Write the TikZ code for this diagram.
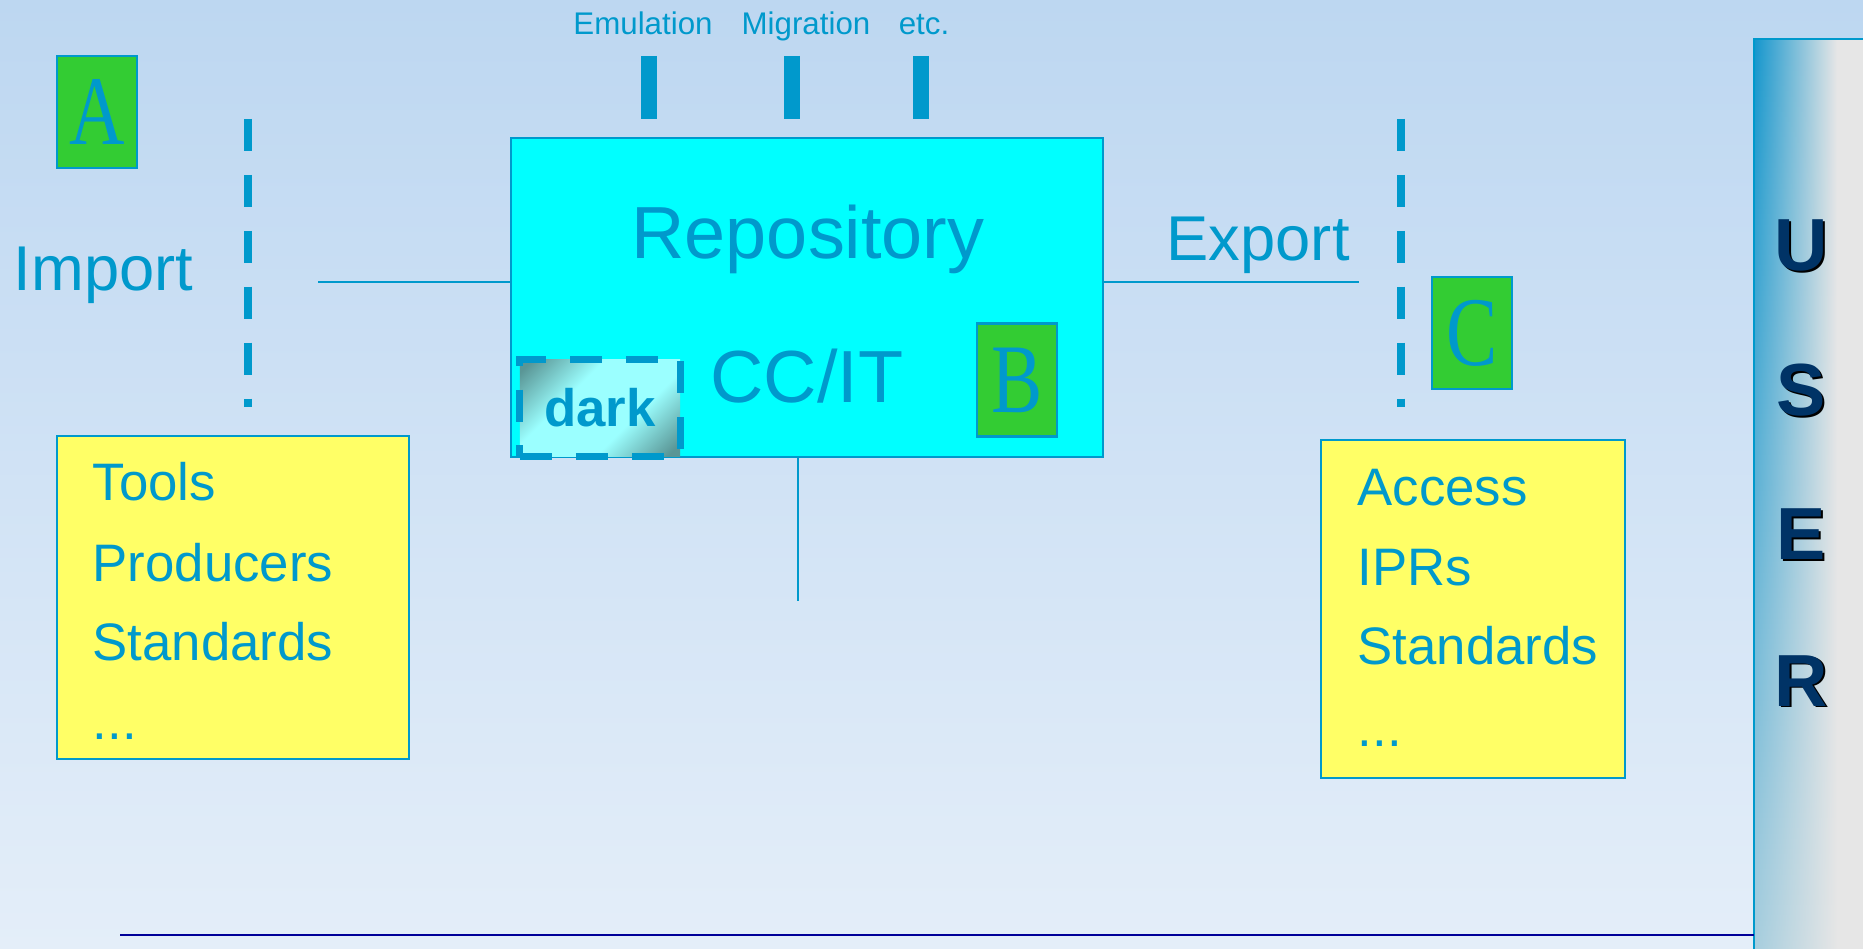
\documentclass[tikz,border=0pt]{standalone}
\usepackage{fontspec}
\usepackage{graphicx}
\setmainfont{Liberation Sans}
\newfontfamily\letterfont{Liberation Serif}
\usetikzlibrary{positioning,fadings}

\definecolor{bgtop}{RGB}{189,215,241}
\definecolor{bgbot}{RGB}{228,238,249}
\definecolor{inkblue}{RGB}{0,153,204}
\definecolor{boxgreen}{RGB}{51,204,51}
\definecolor{boxyellow}{RGB}{255,255,102}
\definecolor{boxcyan}{RGB}{0,255,255}
\definecolor{navy}{RGB}{0,51,102}
\definecolor{rulenavy}{RGB}{0,0,153}
\definecolor{panelgray}{RGB}{230,230,230}
\definecolor{panelblue}{RGB}{20,150,205}
\definecolor{darkedge}{RGB}{90,150,150}
\definecolor{darkmid}{RGB}{155,255,255}

\pgfdeclarehorizontalshading{darkglow}{100bp}{color(0bp)=(darkedge); color(18bp)=(darkedge); color(38bp)=(darkmid); color(62bp)=(darkmid); color(82bp)=(darkedge); color(100bp)=(darkedge)}
\pgfdeclarehorizontalshading{panelshade}{100bp}{color(0bp)=(panelblue); color(25bp)=(panelblue); color(44bp)=(panelblue!50!panelgray); color(63bp)=(panelgray); color(100bp)=(panelgray)}
\tikzfading[name=panelfade, top color=transparent!0, bottom color=transparent!70]

\begin{document}
\begin{tikzpicture}[x=0.01cm,y=-0.01cm,
    ink/.style={text=inkblue,inner sep=0pt},
    keybox/.style={draw=inkblue,line width=0.6pt,fill=boxgreen,text=inkblue,inner sep=0pt,
        minimum width=0.8cm,minimum height=1.12cm,font=\letterfont\fontsize{28}{28}\selectfont},
    listbox/.style={draw=inkblue,line width=0.6pt,fill=boxyellow},
    listitem/.style={ink,anchor=base west,font=\fontsize{15}{18}\selectfont},
    sideword/.style={ink,anchor=base west,font=\fontsize{18}{18}\selectfont},
    toolword/.style={ink,anchor=base,font=\fontsize{8.9}{9}\selectfont},
    sepline/.style={draw=inkblue,line width=2pt,dash pattern=on 9.1pt off 6.8pt},
    toolbar/.style={draw=inkblue,line width=4.5pt},
    thinline/.style={draw=inkblue,line width=0.6pt},
    userletter/.style={inner sep=0pt,anchor=base,font=\bfseries\fontsize{21}{21}\selectfont}
]

    % background
    \useasboundingbox (0,0) rectangle (1863,949);
    \fill[top color=bgtop,bottom color=bgbot] (0,0) rectangle (1863,949);

    % user panel
    \fill[panelgray] (1754,39) rectangle (1863,949);
    \path[shade,shading=panelshade,path fading=panelfade] (1754,39) rectangle (1863,949);
    \draw[thinline] (1754,949) -- (1754,39) -- (1863,39);
    \draw[rulenavy,line width=0.5pt] (120,935) -- (1754,935);

    % repository
    \node[draw=inkblue,line width=0.6pt,fill=boxcyan,minimum width=5.92cm,minimum height=3.19cm] (repo) at (807,297.5) {};
    \node[shade,shading=darkglow,shading angle=-45,draw=inkblue,line width=2pt,dash pattern=on 9.1pt off 6.8pt,
        minimum width=1.60cm,minimum height=0.97cm,text=inkblue,font=\bfseries\fontsize{15}{15}\selectfont] (dark) at (600,408) {dark};
    \node[ink,anchor=base,font=\fontsize{21}{21}\selectfont] (reponame) at (808,259) {Repository};
    \node[ink,anchor=base,font=\fontsize{21}{21}\selectfont] (ccit) at (807,403) {CC/IT};

    % key letters
    \node[keybox] (A) at (97,112) {\scalebox{0.78}[1]{A}};
    \node[keybox,minimum height=1.13cm] (B) at (1017,380) {\scalebox{0.78}[1]{B}};
    \node[keybox] (C) at (1472,333) {\scalebox{0.78}[1]{C}};

    % import / export
    \node[sideword] (import) at (13,291) {Import};
    \node[sideword] (export) at (1166,261) {Export};
    \coordinate (importend) at (318,282);
    \coordinate (exportend) at (1359,282);
    \coordinate (stubend) at (798,601);
    \draw[thinline] (importend) -- (importend -| repo.west);
    \draw[thinline] (repo.east |- exportend) -- (exportend);
    \draw[thinline] (repo.south -| stubend) -- (stubend);

    \coordinate (importsep) at (248,119);
    \coordinate (importsepend) at (248,407);
    \coordinate (exportsep) at (1401,119);
    \coordinate (exportsepend) at (1401,407);
    \draw[sepline] (importsep) -- (importsepend);
    \draw[sepline] (exportsep) -- (exportsepend);

    % preservation strategies
    \node[toolword] (emulation) at (643,35) {Emulation};
    \node[toolword] (migration) at (806,35) {Migration};
    \node[toolword] (etc) at (924,35) {etc.};
    \foreach \x in {649,792,921}
        \draw[toolbar] (\x,56) -- (\x,119);

    % lists
    \node[listbox,minimum width=3.52cm,minimum height=3.23cm] (importlist) at (233,597.5) {};
    \node[listbox,minimum width=3.04cm,minimum height=3.38cm] (exportlist) at (1473,609) {};
    \node[listitem] (tools) at (92,501) {Tools};
    \node[listitem] (producers) at (92,581) {Producers};
    \node[listitem] (importstd) at (92,661) {Standards};
    \node[listitem] (importmore) at (92,739) {...};
    \node[listitem] (access) at (1357,506) {Access};
    \node[listitem] (iprs) at (1357,586) {IPRs};
    \node[listitem] (exportstd) at (1357,665) {Standards};
    \node[listitem] (exportmore) at (1357,746) {...};

    % user
    \node[userletter,text=black] (ushadow) at (1803,273) {U};
    \node[userletter,text=navy] (u) at (1801,271) {U};
    \node[userletter,text=black] (sshadow) at (1803,418) {S};
    \node[userletter,text=navy] (s) at (1801,416) {S};
    \node[userletter,text=black] (eshadow) at (1803,562) {E};
    \node[userletter,text=navy] (e) at (1801,560) {E};
    \node[userletter,text=black] (rshadow) at (1803,708) {R};
    \node[userletter,text=navy] (r) at (1801,706) {R};
\end{tikzpicture}
\end{document}
